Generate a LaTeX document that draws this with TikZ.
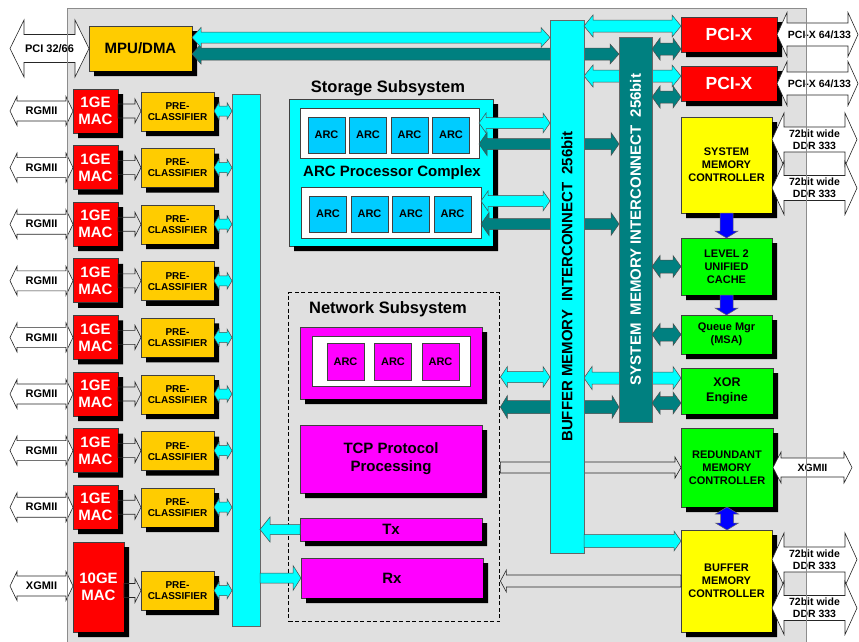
\documentclass[tikz,border=0pt]{standalone}
\usepackage{fontspec}
\setmainfont{Liberation Sans}
\usetikzlibrary{calc, positioning}

\definecolor{chipgray}{HTML}{E0E0E0}
\definecolor{busCyan}{HTML}{00FFFF}
\definecolor{busTeal}{HTML}{008080}
\definecolor{mpuOrange}{HTML}{FFCC00}
\definecolor{arcBlue}{HTML}{00CCFF}
\definecolor{macRed}{HTML}{FF0000}
\definecolor{ctlYellow}{HTML}{FFFF00}
\definecolor{ctlGreen}{HTML}{00FF00}
\definecolor{netMagenta}{HTML}{FF00FF}
\definecolor{memBlue}{HTML}{0000FF}

\pgfdeclarelayer{back}
\pgfdeclarelayer{under}
\pgfsetlayers{back,under,main}

\tikzset{sz/.style 2 args={minimum width=#1pt, minimum height=#2pt}}

% black shadow strip along the right and lower side of a block
\newcommand{\castshadow}[1]{%
  \fill[black] ([shift={(0,5)}]#1.north east) -- ([shift={(5,5)}]#1.north east)
    -- ([shift={(5,5)}]#1.south east) -- ([shift={(5,5)}]#1.south west)
    -- ([shift={(5,0)}]#1.south west) -- (#1.south east) -- cycle;}

% fat arrows: style, tail, tip, body half width, head half width, head length
\newcommand{\hsgl}[6]{%
  \path[#1] let \p1=#2, \p2=#3, \p3=($#3!#6!#2$) in
    (\x1,\y1+#4) -- (\x3,\y1+#4) -- (\x3,\y1+#5) -- (\x2,\y1) --
    (\x3,\y1-#5) -- (\x3,\y1-#4) -- (\x1,\y1-#4) -- cycle;}
\newcommand{\hdbl}[7]{%
  \path[#1] let \p1=#2, \p2=#3, \p3=($#2!#6!#3$), \p4=($#3!#6!#2$) in
    (\x1,\y1) -- (\x3,\y1+#5) -- (\x3,\y1+#4) -- (\x4,\y1+#4) -- (\x4,\y1+#5) --
    (\x2,\y1) -- (\x4,\y1-#5) -- (\x4,\y1-#4) -- (\x3,\y1-#4) -- (\x3,\y1-#5) -- cycle
    (0.5*\x1+0.5*\x2,\y1) #7;}
\newcommand{\vsgl}[6]{%
  \path[#1] let \p1=#2, \p2=#3, \p3=($#3!#6!#2$) in
    (\x1+#4,\y1) -- (\x1+#4,\y3) -- (\x1+#5,\y3) -- (\x1,\y2) --
    (\x1-#5,\y3) -- (\x1-#4,\y3) -- (\x1-#4,\y1) -- cycle;}
\newcommand{\vdbl}[6]{%
  \path[#1] let \p1=#2, \p2=#3, \p3=($#2!#6!#3$), \p4=($#3!#6!#2$) in
    (\x1,\y1) -- (\x1+#5,\y3) -- (\x1+#4,\y3) -- (\x1+#4,\y4) -- (\x1+#5,\y4) --
    (\x1,\y2) -- (\x1-#5,\y4) -- (\x1-#4,\y4) -- (\x1-#4,\y3) -- (\x1-#5,\y3) -- cycle;}

\begin{document}
\begin{tikzpicture}[
  x=1pt, y=-1pt,
  execute at begin node=\bfseries,
  unit/.style={draw=black!75, line width=0.7pt, inner sep=0pt, outer sep=0pt, anchor=north west, align=center},
  mpubox/.style={unit, fill=mpuOrange, font=\fontsize{15}{17}\selectfont},
  macbox/.style={unit, fill=macRed, text=white, font=\fontsize{15}{17}\selectfont},
  preclass/.style={unit, fill=mpuOrange, sz={73}{39}, font=\fontsize{10}{11}\selectfont},
  pcixbox/.style={unit, fill=macRed, text=white, font=\fontsize{17.5}{19}\selectfont},
  ctlbox/.style={unit, font=\fontsize{11}{13}\selectfont},
  arcbox/.style={unit, sz={37}{36}, font=\fontsize{11}{13}\selectfont},
  netbox/.style={unit, fill=netMagenta, font=\fontsize{15}{18}\selectfont},
  netframe/.style={draw=black, line width=1.4pt, dash pattern=on 4pt off 2.5pt, inner sep=0pt, anchor=north west},
  barcyan/.style={unit, draw=black!60, fill=busCyan},
  barteal/.style={unit, draw=black!60, fill=busTeal},
  bartext/.style={rotate=90, font=\fontsize{15}{17}\selectfont},
  grouptitle/.style={font=\fontsize{16.5}{19}\selectfont},
  iolabel/.style={align=center, font=\fontsize{10.5}{12}\selectfont},
  ioarrow/.style={fill=white, draw=black!85, line width=0.6pt},
  thinarrow/.style={draw=black!85, line width=0.6pt},
  cyanarrow/.style={fill=busCyan, draw=black!70, line width=0.5pt},
  tealarrow/.style={fill=busTeal, draw=black!70, line width=0.5pt},
  bluearrow/.style={fill=memBlue, draw=black!60, line width=0.5pt}
]
\useasboundingbox (0,0) rectangle (859,641);

% chip outline
\begin{pgfonlayer}{back}
  \fill[chipgray] (67,8) rectangle (806,650);
\end{pgfonlayer}

% host side: MPU
\node[mpubox, sz={103}{45}] (mpu) at (89,26) {MPU/DMA};
\castshadow{mpu}
\coordinate (pcihost) at (10,48.5);
\hdbl{ioarrow}{(pcihost)}{(mpu.west |- pcihost)}{14pt}{28.5pt}{14pt}{node[iolabel, font=\fontsize{11}{13}\selectfont]{PCI 32/66}};

% pre-classifier bus
\node[barcyan, sz={28}{532}] (pcbus) at (232,94) {};

% 1GE MAC rows
\foreach \i in {1,...,8} {
  \pgfmathsetmacro{\ytop}{89+56.6*(\i-1)}
  \node[macbox, sz={45}{44}] (mac\i) at (73,\ytop) {1GE\\MAC};
  \castshadow{mac\i}
  \node[preclass] (pre\i) at (141,\ytop+3) {PRE-\\CLASSIFIER};
  \castshadow{pre\i}
  \coordinate (rg\i) at (10,\ytop+22);
  \hdbl{ioarrow}{(rg\i)}{(mac\i.west |- rg\i)}{10pt}{14.5pt}{7pt}{node[iolabel, font=\fontsize{11}{13}\selectfont]{RGMII}};
  \hsgl{thinarrow}{(mac\i.east |- rg\i)}{(pre\i.west |- rg\i)}{7pt}{12pt}{6pt};
  \hdbl{cyanarrow}{(pre\i.east |- rg\i)}{(pcbus.west |- rg\i)}{5pt}{8.5pt}{5pt}{};
}

% 10GE MAC row
\node[macbox, sz={51}{90}] (mac9) at (73,542) {10GE\\MAC};
\castshadow{mac9}
\node[preclass] (pre9) at (141,571) {PRE-\\CLASSIFIER};
\castshadow{pre9}
\coordinate (xghost) at (10,586);
\hdbl{ioarrow}{(xghost)}{(mac9.west |- xghost)}{10pt}{14.5pt}{7pt}{node[iolabel, font=\fontsize{11}{13}\selectfont]{XGMII}};
\hsgl{thinarrow}{(mac9.east |- pre9)}{(pre9.west)}{7pt}{12pt}{6pt};
\hdbl{cyanarrow}{(pre9.east)}{(pcbus.west |- pre9)}{5pt}{8.5pt}{5pt}{};

% storage subsystem
\node[grouptitle] (storlabel) at (388,88) {Storage Subsystem};
\node[unit, fill=busCyan, sz={204}{147}] (storbox) at (289,99) {};
\castshadow{storbox}
\node[unit, fill=white, sz={179}{50}] (arcrow1) at (300,108) {};
\node[unit, fill=white, sz={180}{51}] (arcrow2) at (301,187) {};
\node[font=\fontsize{15}{17}\selectfont] (arclabel) at (392,173) {ARC Processor Complex};
\foreach \i in {0,...,3} {
  \node[arcbox, fill=arcBlue] (sarcA\i) at (308+41.5*\i,117) {ARC};
  \node[arcbox, fill=arcBlue] (sarcB\i) at (309.5+41.5*\i,196) {ARC};
}

% network subsystem
\node[netframe, sz={211}{329}] (netsub) at (288,292) {};
\node[grouptitle] (netlabel) at (388,309) {Network Subsystem};
\node[netbox, sz={182}{72}] (netarc) at (300,327) {};
\castshadow{netarc}
\node[unit, fill=white, sz={158}{50}] (netarcrow) at (312,336) {};
\foreach \i in {0,1,2}
  \node[arcbox, fill=netMagenta, sz={37}{37}] (narc\i) at (327+47.5*\i,343) {ARC};
\node[netbox, sz={182}{68}] (tcp) at (300,425) {TCP Protocol\\Processing};
\castshadow{tcp}
\node[netbox, sz={182}{23}] (tx) at (300,518) {Tx};
\castshadow{tx}
\node[netbox, sz={182}{40}] (rx) at (301,558) {Rx};
\castshadow{rx}
\hsgl{cyanarrow}{(tx.west)}{(pcbus.east |- tx)}{5pt}{12.5pt}{10pt};
\hsgl{cyanarrow}{(pcbus.east |- rx)}{(rx.west)}{5pt}{12.5pt}{8pt};

% memory side
\node[pcixbox, sz={96}{35}] (pcix1) at (681,17) {PCI-X};
\node[pcixbox, sz={96}{35}] (pcix2) at (681,66) {PCI-X};
\node[ctlbox, fill=ctlYellow, sz={91}{96}] (smc) at (681,117) {SYSTEM\\MEMORY\\CONTROLLER};
\node[ctlbox, fill=ctlGreen, sz={91}{57}] (l2c) at (681,238) {LEVEL 2\\UNIFIED\\CACHE};
\node[ctlbox, fill=ctlGreen, sz={91}{39}] (qmgr) at (681,315) {Queue Mgr\\(MSA)};
\node[ctlbox, fill=ctlGreen, sz={92}{46}, font=\fontsize{12.5}{15}\selectfont] (xor) at (681,368) {XOR\\Engine};
\node[ctlbox, fill=ctlGreen, sz={92}{79}] (rmc) at (681,428) {REDUNDANT\\MEMORY\\CONTROLLER};
\node[ctlbox, fill=ctlYellow, sz={91}{102}] (bmc) at (681,530) {BUFFER\\MEMORY\\CONTROLLER};
\foreach \n in {pcix1,pcix2,smc,l2c,qmgr,xor,rmc,bmc} {
  \castshadow{\n}
}

\vsgl{bluearrow}{(smc.south)}{(l2c.north)}{6.5pt}{11.5pt}{7pt};
\vsgl{bluearrow}{(l2c.south)}{(qmgr.north)}{6.5pt}{11.5pt}{7pt};
\vdbl{bluearrow}{(rmc.south)}{(bmc.north)}{6.5pt}{11.5pt}{7pt};

% system memory interconnect
\node[barteal, sz={33}{385}] (smi) at (619,37) {};
\node[bartext, text=white] (smitext) at (smi.center) {SYSTEM\hspace{8pt}MEMORY INTERCONNECT\hspace{8pt}256bit};

\hdbl{tealarrow}{(mpu.east |- 0,54)}{(smi.west |- 0,54)}{6pt}{10pt}{9pt}{};
\hdbl{tealarrow}{(arcrow1.east |- 0,144)}{(smi.west |- 0,144)}{5.5pt}{11.5pt}{8pt}{};
\hdbl{tealarrow}{(arcrow2.east |- 0,224)}{(smi.west |- 0,224)}{5.5pt}{11.5pt}{8pt}{};
\hdbl{tealarrow}{(netsub.east |- 0,407)}{(smi.west |- 0,407)}{6.5pt}{11.5pt}{7pt}{};
\hsgl{thinarrow}{(netsub.east |- rmc)}{(rmc.west)}{5.5pt}{10.5pt}{6pt};
\hsgl{thinarrow}{(bmc.west |- 0,581)}{(netsub.east |- 0,581)}{6pt}{11pt}{6pt};

\hdbl{tealarrow}{(smi.east |- 0,49)}{(pcix1.west |- 0,49)}{6pt}{11pt}{8pt}{};
\hdbl{tealarrow}{(smi.east |- 0,97)}{(pcix2.west |- 0,97)}{6pt}{11pt}{8pt}{};
\hdbl{tealarrow}{(smi.east |- l2c)}{(l2c.west)}{6.5pt}{11pt}{8pt}{};
\hdbl{tealarrow}{(smi.east |- qmgr)}{(qmgr.west)}{6.5pt}{11pt}{8pt}{};
\hdbl{tealarrow}{(smi.east |- 0,403)}{(xor.west |- 0,403)}{6.5pt}{11pt}{8pt}{};

% buffer memory interconnect
\node[barcyan, sz={34}{533}] (bmi) at (550,20) {};
\node[bartext] (bmitext) at (bmi.center) {BUFFER MEMORY\hspace{8pt}INTERCONNECT\hspace{8pt}256bit};

\hdbl{cyanarrow}{(mpu.east |- 0,37.5)}{(bmi.west |- 0,37.5)}{5.5pt}{10pt}{9pt}{};
\hdbl{cyanarrow}{(arcrow1.east |- 0,123)}{(bmi.west |- 0,123)}{5.5pt}{10pt}{7pt}{};
\hdbl{cyanarrow}{(arcrow2.east |- 0,201)}{(bmi.west |- 0,201)}{5.5pt}{10pt}{7pt}{};
\hdbl{cyanarrow}{(netsub.east |- 0,377)}{(bmi.west |- 0,377)}{5.5pt}{10.5pt}{7pt}{};
\hdbl{cyanarrow}{(bmi.east |- 0,26)}{(pcix1.west |- 0,26)}{6pt}{11pt}{9pt}{};
\hsgl{cyanarrow}{(bmi.east |- 0,541)}{(bmc.west |- 0,541)}{6.5pt}{10pt}{7pt};
\begin{pgfonlayer}{under}
  \hdbl{cyanarrow}{(bmi.east |- 0,76)}{(pcix2.west |- 0,76)}{6pt}{11pt}{9pt}{};
  \hdbl{cyanarrow}{(bmi.east |- 0,378)}{(xor.west |- 0,378)}{6pt}{11.5pt}{8pt}{};
\end{pgfonlayer}

% external memory and I/O ports
\coordinate (pcixext1) at (858,34.5);
\coordinate (pcixext2) at (858,83.5);
\hdbl{ioarrow}{(pcix1.east)}{(pcixext1)}{11.5pt}{22pt}{10pt}{node[iolabel, xshift=2pt]{PCI-X 64/133}};
\hdbl{ioarrow}{(pcix2.east)}{(pcixext2)}{11.5pt}{22pt}{10pt}{node[iolabel, xshift=2pt]{PCI-X 64/133}};
\coordinate (ddrsys1) at (857,139.5);
\coordinate (ddrsys2) at (857,188);
\hdbl{ioarrow}{(smc.east |- ddrsys1)}{(ddrsys1)}{12.5pt}{26.5pt}{12pt}{node[iolabel]{72bit wide\\DDR 333}};
\hdbl{ioarrow}{(smc.east |- ddrsys2)}{(ddrsys2)}{12.5pt}{26.5pt}{12pt}{node[iolabel]{72bit wide\\DDR 333}};
\coordinate (xgext) at (852,467.5);
\hdbl{ioarrow}{(rmc.east)}{(xgext)}{9.5pt}{15.5pt}{8pt}{node[iolabel]{XGMII}};
\coordinate (ddrbuf1) at (857,559.5);
\coordinate (ddrbuf2) at (857,608);
\hdbl{ioarrow}{(bmc.east |- ddrbuf1)}{(ddrbuf1)}{12.5pt}{26.5pt}{12pt}{node[iolabel]{72bit wide\\DDR 333}};
\hdbl{ioarrow}{(bmc.east |- ddrbuf2)}{(ddrbuf2)}{12.5pt}{26.5pt}{12pt}{node[iolabel]{72bit wide\\DDR 333}};

% chip border on top
\draw[black!45, line width=1pt] (67,650) -- (67,8) -- (806,8) -- (806,650);

\end{tikzpicture}
\end{document}
